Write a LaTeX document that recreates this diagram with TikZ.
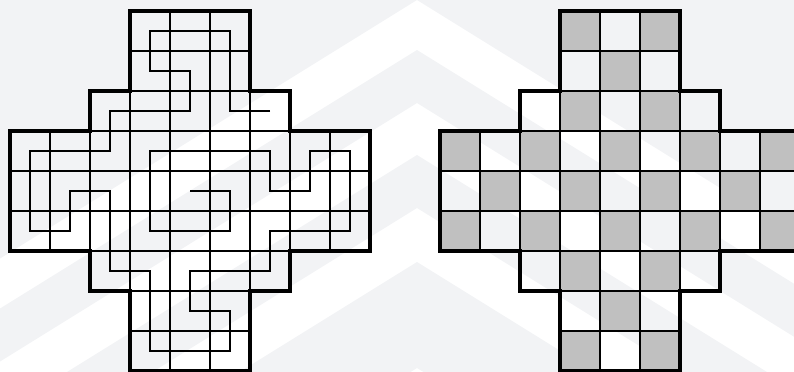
\documentclass[tikz,border=0pt]{standalone}
\usepackage{tikz}
\usetikzlibrary{calc}
\definecolor{wmgray}{HTML}{F2F3F5}
\definecolor{cellgray}{HTML}{C0C0C0}

\begin{document}
\begin{tikzpicture}[
    crossborder/.style={draw, line width=2.6pt, line join=miter},
    cellline/.style={draw, line width=0.9pt},
    route/.style={draw, line width=2.1pt},
    darkcell/.style={fill=cellgray},
    crossshape/.style={insert path={(3,0) -- (6,0) -- (6,2) -- (7,2) -- (7,3) -- (9,3) -- (9,6) -- (7,6) -- (7,7) -- (6,7) -- (6,9) -- (3,9) -- (3,7) -- (2,7) -- (2,6) -- (0,6) -- (0,3) -- (2,3) -- (2,2) -- (3,2) -- cycle}}
]
    \clip (-0.25,-0.025) rectangle (19.6,9.275);

    % faint chevron background
    \foreach \up/\lo in {20/9.275, 8.025/6.7, 5.4/4.075, 2.725/0.075}
        \fill[wmgray] (-1.825,\up-7.44) -- (10.175,\up) -- (22.175,\up-7.44) -- (22.175,\lo-7.44) -- (10.175,\lo) -- (-1.825,\lo-7.44) -- cycle;

    % left board with the path
    \begin{scope}
        \clip[crossshape];
        \draw[cellline] (0,0) grid (9,9);
    \end{scope}
    \draw[route] (6.5,6.5) -- (5.5,6.5) -- (5.5,8.5) -- (3.5,8.5) -- (3.5,7.5) -- (4.5,7.5) -- (4.5,6.5) -- (2.5,6.5) -- (2.5,5.5) -- (0.5,5.5) -- (0.5,3.5) -- (1.5,3.5) -- (1.5,4.5) -- (2.5,4.5) -- (2.5,2.5) -- (3.5,2.5) -- (3.5,0.5) -- (5.5,0.5) -- (5.5,1.5) -- (4.5,1.5) -- (4.5,2.5) -- (6.5,2.5) -- (6.5,3.5) -- (8.5,3.5) -- (8.5,5.5) -- (7.5,5.5) -- (7.5,4.5) -- (6.5,4.5) -- (6.5,5.5) -- (3.5,5.5) -- (3.5,3.5) -- (5.5,3.5) -- (5.5,4.5) -- (4.5,4.5);
    \draw[crossborder, crossshape];

    % right board, coloured like a chessboard
    \begin{scope}[xshift=10.75cm]
        \begin{scope}
            \clip[crossshape];
            \foreach \c in {0,...,8}
                \foreach \j in {0,...,8} {
                    \pgfmathtruncatemacro{\odd}{mod(\c+\j,2)}
                    \ifnum\odd=1 \fill[darkcell] (\c,\j) rectangle ++(1,1); \fi
                }
            \draw[cellline] (0,0) grid (9,9);
        \end{scope}
        \draw[crossborder, crossshape];
    \end{scope}
\end{tikzpicture}
\end{document}
